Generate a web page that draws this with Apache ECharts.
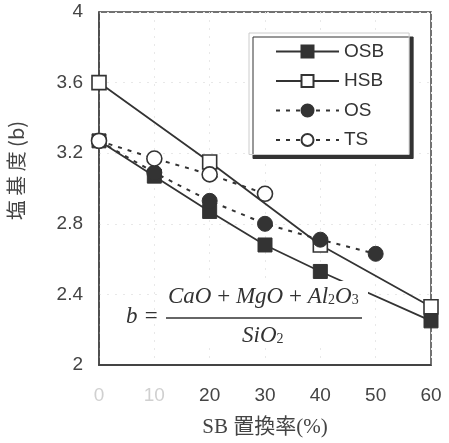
<!DOCTYPE html>
<html><head><meta charset="utf-8">
<script src="https://cdn.jsdelivr.net/npm/echarts@6/dist/echarts.min.js"></script>
<style>html,body{margin:0;padding:0;background:#fff}#c{width:449px;height:443px}</style>
</head><body><div id="c"></div>
<script>
const xTicks = [0, 10, 20, 30, 40, 50, 60];
const yTicks = [2, 2.4, 2.8, 3.2, 3.6, 4];
const seriesNames = ['OSB', 'HSB', 'OS', 'TS'];
const osbX = [0, 10, 20, 30, 40, 60];
const osbY = [3.27, 3.07, 2.87, 2.68, 2.53, 2.25];
const hsbX = [0, 20, 40, 60];
const hsbY = [3.60, 3.15, 2.68, 2.33];
const osX = [0, 10, 20, 30, 40, 50];
const osY = [3.27, 3.09, 2.93, 2.80, 2.71, 2.63];
const tsX = [0, 10, 20, 30];
const tsY = [3.27, 3.17, 3.08, 2.97];

const pair = (xs, ys) => xs.map((x, i) => [x, ys[i]]);
const dark = '#333';
const chart = echarts.init(document.getElementById('c'), null, {renderer: 'canvas'});
const sans = '"Liberation Sans", Arial, sans-serif';
const serif = '"Liberation Serif", "Times New Roman", serif';

chart.setOption({
  animation: false,
  backgroundColor: '#fff',
  grid: {left: 99, right: 18, top: 12, bottom: 78, show: true, borderColor: '#444', borderWidth: 1.5, backgroundColor: 'transparent'},
  xAxis: {
    type: 'value', min: xTicks[0], max: xTicks[xTicks.length - 1], interval: 10,
    axisLine: {show: true, lineStyle: {color: '#444', width: 2}},
    axisTick: {show: false},
    splitLine: {show: true, lineStyle: {color: '#e8e8e8', type: [2, 6], width: 1}},
    axisLabel: {
      margin: 21, fontSize: 19, fontFamily: sans,
      color: v => (v < 20 ? '#d0d0d0' : '#444')
    },
    name: 'SB 置換率(%)', nameLocation: 'middle', nameGap: 52,
    nameTextStyle: {fontFamily: serif + ', "Noto Sans CJK JP"', fontSize: 21, color: '#444'}
  },
  yAxis: {
    type: 'value', min: yTicks[0], max: yTicks[yTicks.length - 1], interval: 0.4,
    axisLine: {show: true, lineStyle: {color: '#444', width: 1.5}},
    axisTick: {show: false},
    splitLine: {show: true, lineStyle: {color: '#e8e8e8', type: [2, 6], width: 1}},
    axisLabel: {margin: 16, fontSize: 19, fontFamily: sans, color: '#444'}
  },
  legend: {
    orient: 'vertical', left: 249, top: 33,
    data: seriesNames,
    itemWidth: 63, itemHeight: 15, itemGap: 10.5,
    padding: [9, 25, 5, 26],
    backgroundColor: '#fff',
    borderColor: '#ccc', borderWidth: 1,
    shadowColor: '#333', shadowBlur: 0, shadowOffsetX: 4, shadowOffsetY: 4,
    textStyle: {fontSize: 19, lineHeight: 18, fontFamily: sans, color: '#333'}
  },
  graphic: [
    {type: 'text', left: 6, top: 121, rotation: Math.PI / 2, style: {text: '塩 基 度 (b)', font: '20px "Noto Sans CJK JP", serif', fill: '#444'}, z: 100},
    {type: 'rect', shape: {x: 162, y: 281, width: 206, height: 66}, style: {fill: '#fff'}, z: 50},
    {type: 'text', x: 126, y: 305, style: {text: 'b =', font: 'italic 23px "Liberation Serif", serif', fill: '#333'}, z: 100},
    {type: 'text', x: 168, y: 285, style: {
      text: '{i|CaO}{n| + }{i|MgO}{n| + }{i|Al}{s|2}{i|O}{s|3}',
      rich: {
        i: {font: 'italic 23px "Liberation Serif", serif', fill: '#333'},
        n: {font: '23px "Liberation Serif", serif', fill: '#333'},
        s: {font: '14px "Liberation Serif", serif', fill: '#333', padding: [8, 0, 0, 0]}
      }
    }, z: 100},
    {type: 'line', shape: {x1: 166, y1: 318, x2: 362, y2: 318}, style: {stroke: '#333', lineWidth: 1.3}, z: 100},
    {type: 'text', x: 242, y: 324, style: {
      text: '{i|SiO}{s|2}',
      rich: {
        i: {font: 'italic 23px "Liberation Serif", serif', fill: '#333'},
        s: {font: '14px "Liberation Serif", serif', fill: '#333', padding: [8, 0, 0, 0]}
      }
    }, z: 100}
  ],
  series: [
    {name: 'OSB', type: 'line', data: pair(osbX, osbY), symbol: 'rect', symbolSize: 14,
     itemStyle: {color: dark, borderColor: dark, borderWidth: 1}, lineStyle: {color: dark, width: 1.8}, z: 2},
    {name: 'HSB', type: 'line', data: pair(hsbX, hsbY), symbol: 'rect', symbolSize: 14,
     itemStyle: {color: '#fff', borderColor: dark, borderWidth: 1.6}, lineStyle: {color: dark, width: 1.8}, z: 3},
    {name: 'OS', type: 'line', data: pair(osX, osY), symbol: 'circle', symbolSize: 15,
     itemStyle: {color: dark, borderColor: dark, borderWidth: 1}, lineStyle: {color: dark, width: 2, type: [4, 6]}, z: 4},
    {name: 'TS', type: 'line', data: pair(tsX, tsY), symbol: 'circle', symbolSize: 15,
     itemStyle: {color: '#fff', borderColor: dark, borderWidth: 1.6}, lineStyle: {color: dark, width: 2, type: [4, 6]}, z: 5}
  ]
});
</script></body></html>
